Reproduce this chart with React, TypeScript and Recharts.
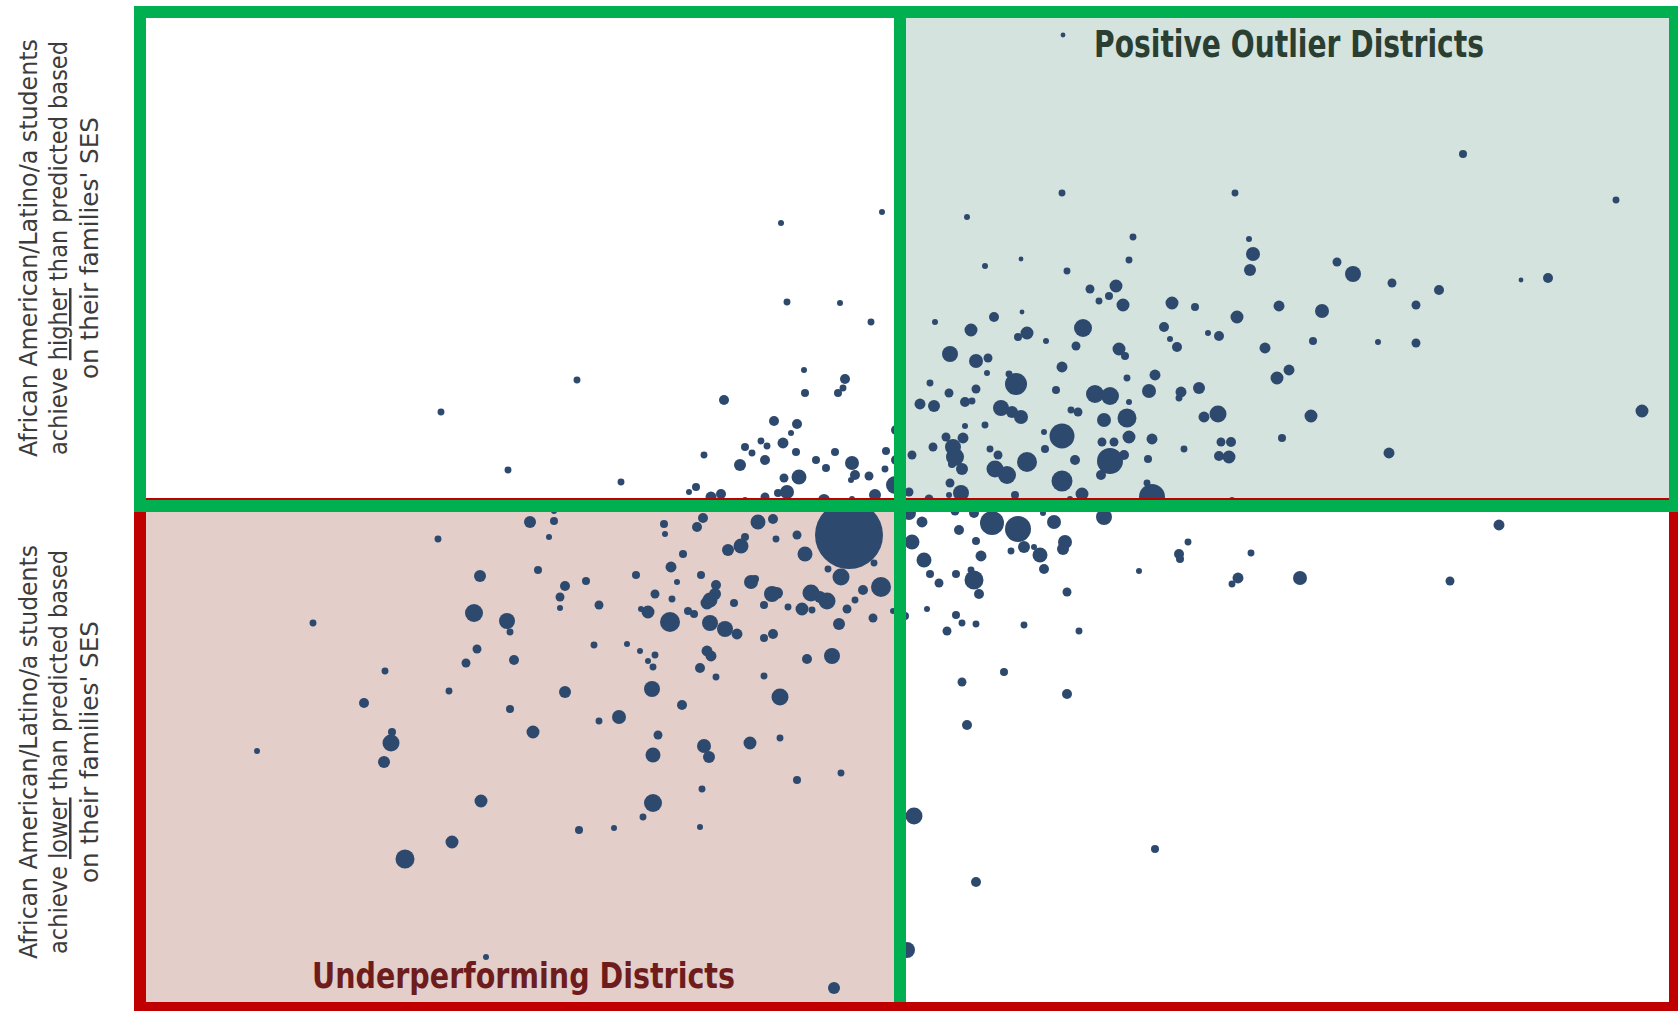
import React from 'react';
import { ScatterChart, Scatter, XAxis, YAxis, ZAxis, ReferenceArea, ReferenceLine } from 'recharts';

// Each district: [performance vs SES prediction (x), achievement gap residual (y), enrollment weight (z)]
type P = [number, number, number];

const upperLeft: P[] = [
  [-0.18, 2.94, 9], [-1.19, 2.83, 9], [-1.13, 2.04, 12], [-0.6, 2.03, 9], [-0.29, 1.84, 12],
  [-3.23, 1.26, 12], [-4.59, 0.94, 12], [-0.96, 1.36, 9], [-0.55, 1.27, 25], [-0.57, 1.18, 12],
  [-0.95, 1.13, 16], [-0.62, 1.13, 16], [-1.76, 1.06, 25], [-1.26, 0.85, 25], [-1.03, 0.82, 25],
  [-1.09, 0.73, 9], [-3.92, 0.36, 12], [-2.79, 0.24, 12], [-1.55, 0.59, 16], [-1.39, 0.65, 12],
  [-1.33, 0.6, 12], [-1.48, 0.53, 12], [-1.17, 0.63, 30], [-1.04, 0.54, 16], [-1.96, 0.51, 12],
  [-1.6, 0.41, 36], [-1.35, 0.46, 25], [-0.84, 0.46, 16], [-0.74, 0.38, 16], [-0.65, 0.54, 16],
  [-0.48, 0.43, 49], [-0.45, 0.31, 25], [-0.31, 0.3, 20], [-0.14, 0.55, 16], [-0.15, 0.37, 12],
  [-1.01, 0.29, 56], [-1.16, 0.28, 20], [-0.49, 0.26, 9], [-1.13, 0.14, 49], [-1.22, 0.13, 16],
  [-2.04, 0.19, 16], [-2.11, 0.14, 9], [-1.89, 0.09, 30], [-1.79, 0.12, 25], [-1.55, 0.06, 9],
  [-1.35, 0.09, 20], [-0.76, 0.06, 36], [-0.48, 0.07, 9], [-0.25, 0.11, 36], [-0.05, 0.21, 81],
  [-0.04, 0.46, 25], [-0.04, 0.76, 25],
];

const upperRight: P[] = [
  [1.63, 4.71, 6], [5.63, 3.52, 16], [1.62, 3.13, 12], [3.35, 3.13, 12], [7.16, 3.06, 12],
  [0.67, 2.89, 9], [2.33, 2.69, 12], [3.49, 2.67, 9], [3.53, 2.52, 49], [3.5, 2.36, 36],
  [2.29, 2.46, 12], [1.21, 2.47, 6], [0.85, 2.4, 9], [1.67, 2.35, 12], [4.37, 2.44, 20],
  [4.53, 2.32, 64], [4.92, 2.23, 20], [5.39, 2.16, 25], [6.21, 2.26, 6], [6.48, 2.28, 25],
  [5.16, 2.01, 20], [2.16, 2.2, 42], [1.9, 2.17, 20], [2.09, 2.1, 16], [1.99, 2.05, 12],
  [2.23, 2.01, 42], [2.72, 2.03, 42], [2.95, 1.99, 16], [3.79, 2.0, 30], [4.22, 1.95, 49],
  [3.37, 1.89, 42], [1.22, 1.94, 6], [0.35, 1.84, 9], [0.94, 1.89, 25], [0.71, 1.76, 42],
  [1.27, 1.73, 42], [1.18, 1.69, 16], [1.46, 1.65, 9], [1.83, 1.78, 81], [1.76, 1.6, 20],
  [2.64, 1.79, 25], [3.08, 1.73, 9], [3.19, 1.7, 25], [2.7, 1.67, 9], [2.77, 1.59, 25],
  [2.19, 1.57, 42], [2.25, 1.5, 16], [3.65, 1.58, 30], [4.13, 1.65, 16], [4.78, 1.64, 9],
  [5.16, 1.63, 20], [0.5, 1.52, 64], [0.76, 1.45, 49], [0.88, 1.48, 20], [1.62, 1.39, 30],
  [3.89, 1.36, 30], [3.77, 1.28, 42], [2.55, 1.31, 30], [2.27, 1.28, 12], [0.3, 1.23, 12],
  [0.87, 1.33, 9], [1.09, 1.32, 12], [1.16, 1.22, 121], [0.76, 1.17, 20], [0.49, 1.13, 20],
  [1.56, 1.16, 16], [1.95, 1.12, 81], [2.1, 1.1, 81], [2.49, 1.15, 49], [2.81, 1.14, 30],
  [2.79, 1.08, 12], [2.99, 1.18, 36], [0.2, 1.02, 30], [0.34, 1.0, 36], [0.65, 1.04, 25],
  [0.72, 1.05, 12], [1.01, 0.98, 64], [1.12, 0.94, 36], [1.21, 0.89, 49], [1.71, 0.96, 12],
  [1.78, 0.94, 20], [2.04, 0.86, 49], [2.27, 0.88, 90], [2.29, 1.04, 9], [3.18, 0.92, 72],
  [3.04, 0.89, 30], [4.11, 0.9, 42], [7.42, 0.95, 42], [0.65, 0.8, 9], [0.85, 0.81, 12],
  [0.46, 0.69, 20], [0.63, 0.68, 30], [0.53, 0.59, 64], [0.55, 0.49, 81], [0.33, 0.59, 20],
  [0.12, 0.51, 20], [0.9, 0.57, 12], [0.98, 0.51, 20], [1.44, 0.74, 9], [1.62, 0.7, 156],
  [1.45, 0.57, 16], [1.27, 0.44, 100], [1.75, 0.46, 25], [2.02, 0.64, 20], [2.14, 0.64, 20],
  [2.29, 0.69, 42], [2.52, 0.67, 30], [2.1, 0.45, 169], [2.24, 0.51, 25], [2.01, 0.31, 25],
  [2.48, 0.47, 16], [2.84, 0.57, 12], [3.21, 0.64, 20], [3.31, 0.64, 25], [3.19, 0.5, 25],
  [3.29, 0.49, 42], [3.82, 0.68, 16], [4.89, 0.53, 30], [0.52, 0.42, 16], [0.62, 0.37, 36],
  [0.95, 0.37, 72], [1.07, 0.31, 81], [1.62, 0.25, 110], [0.5, 0.23, 20], [0.61, 0.13, 64],
  [0.49, 0.11, 9], [1.15, 0.11, 16], [1.82, 0.12, 42], [0.09, 0.14, 20], [0.29, 0.07, 20],
  [2.47, 0.23, 12], [2.52, 0.09, 169], [3.32, 0.06, 9], [1.7, 0.07, 9],
];

const lowerRight: P[] = [
  [0.09, -0.07, 49], [0.22, -0.16, 30], [0.55, -0.05, 20], [0.74, -0.07, 25], [0.92, -0.17, 144],
  [1.18, -0.23, 169], [1.43, -0.07, 9], [1.54, -0.16, 49], [2.04, -0.11, 64], [0.59, -0.24, 25],
  [0.12, -0.36, 56], [0.76, -0.35, 16], [1.11, -0.45, 12], [1.24, -0.41, 36], [1.34, -0.41, 9],
  [1.4, -0.49, 56], [0.81, -0.5, 30], [1.65, -0.36, 49], [1.63, -0.43, 36], [2.88, -0.36, 12],
  [2.79, -0.48, 25], [2.8, -0.53, 16], [3.51, -0.47, 12], [5.99, -0.19, 30], [0.24, -0.54, 56],
  [1.44, -0.63, 25], [2.39, -0.65, 9], [0.3, -0.68, 16], [0.56, -0.68, 16], [0.71, -0.64, 12],
  [0.74, -0.74, 90], [0.39, -0.77, 20], [0.79, -0.88, 25], [3.38, -0.72, 30], [3.32, -0.78, 12],
  [4.0, -0.72, 49], [5.5, -0.75, 20], [1.67, -0.86, 20], [0.05, -1.1, 16], [0.27, -1.03, 9],
  [0.56, -1.09, 16], [0.62, -1.17, 12], [0.76, -1.18, 12], [0.47, -1.25, 20], [1.24, -1.19, 12],
  [1.79, -1.25, 12], [1.04, -1.66, 16], [0.62, -1.76, 20], [1.67, -1.88, 25], [0.67, -2.19, 25],
  [0.14, -3.1, 72], [2.55, -3.43, 16], [0.76, -3.76, 25], [0.07, -4.44, 64],
];

const lowerLeft: P[] = [
  [-3.7, -0.16, 36], [-3.46, -0.15, 16], [-3.46, -0.05, 9], [-3.51, -0.31, 9], [-4.62, -0.33, 12],
  [-2.36, -0.18, 16], [-2.35, -0.28, 9], [-2.03, -0.21, 25], [-1.97, -0.12, 25], [-1.42, -0.16, 56],
  [-1.27, -0.13, 25], [-1.24, -0.33, 12], [-1.03, -0.29, 20], [-0.95, -0.48, 56], [-0.51, -0.29, 1156],
  [-1.55, -0.31, 16], [-1.59, -0.4, 56], [-1.72, -0.44, 36], [-2.17, -0.48, 16], [-2.29, -0.61, 30],
  [-1.99, -0.69, 16], [-2.23, -0.76, 9], [-2.64, -0.69, 16], [-3.14, -0.75, 16], [-3.62, -0.64, 16],
  [-4.2, -0.7, 36], [-1.84, -0.79, 25], [-1.49, -0.76, 49], [-1.45, -0.73, 16], [-1.28, -0.88, 64],
  [-1.23, -0.87, 36], [-0.89, -0.87, 72], [-0.73, -0.95, 72], [-0.8, -0.91, 36], [-0.59, -0.71, 72],
  [-0.72, -0.63, 12], [-0.26, -0.57, 12], [-0.37, -0.84, 25], [-0.45, -0.94, 12], [-0.19, -0.81, 100],
  [-0.53, -1.03, 20], [-0.27, -1.12, 20], [-0.61, -1.18, 36], [-0.07, -1.05, 9], [-0.98, -1.03, 42],
  [-0.88, -1.04, 12], [-1.12, -1.01, 12], [-1.36, -0.99, 16], [-1.66, -0.97, 16], [-1.85, -0.88, 36],
  [-1.9, -0.94, 56], [-1.93, -0.97, 42], [-2.45, -0.88, 20], [-2.28, -0.93, 12], [-2.52, -1.06, 42],
  [-2.59, -1.03, 9], [-2.3, -1.16, 100], [-2.12, -1.05, 16], [-2.06, -1.08, 16], [-1.9, -1.17, 64],
  [-1.75, -1.23, 64], [-1.63, -1.28, 30], [-1.36, -1.32, 16], [-1.27, -1.28, 25], [-3.01, -0.99, 20],
  [-3.4, -0.91, 20], [-3.35, -0.8, 25], [-3.4, -1.02, 9], [-4.26, -1.07, 81], [-3.93, -1.15, 64],
  [-3.9, -1.26, 12], [-5.87, -1.17, 12], [-3.06, -1.39, 12], [-2.73, -1.38, 9], [-2.6, -1.45, 9],
  [-2.45, -1.49, 12], [-2.52, -1.55, 9], [-2.47, -1.61, 12], [-1.93, -1.45, 30], [-1.89, -1.5, 30],
  [-2.0, -1.62, 25], [-1.84, -1.71, 12], [-1.36, -1.7, 12], [-0.93, -1.53, 25], [-0.68, -1.5, 64],
  [-4.23, -1.43, 20], [-4.34, -1.57, 20], [-3.86, -1.54, 25], [-5.15, -1.65, 12], [-4.51, -1.85, 12],
  [-5.36, -1.97, 25], [-3.35, -1.86, 36], [-2.48, -1.83, 64], [-1.2, -1.91, 72], [-2.18, -1.99, 25],
  [-3.9, -2.03, 16], [-3.01, -2.15, 12], [-2.81, -2.11, 49], [-3.67, -2.26, 42], [-2.42, -2.29, 20],
  [-1.2, -2.32, 12], [-1.5, -2.37, 42], [-1.96, -2.4, 49], [-1.91, -2.51, 36], [-2.47, -2.49, 56],
  [-5.08, -2.26, 16], [-5.09, -2.37, 72], [-5.16, -2.56, 36], [-6.43, -2.45, 9], [-1.03, -2.74, 16],
  [-0.59, -2.67, 12], [-1.98, -2.83, 12], [-4.19, -2.95, 42], [-2.47, -2.97, 81], [-2.57, -3.11, 12],
  [-2.0, -3.21, 9], [-2.86, -3.22, 9], [-3.21, -3.24, 16], [-4.48, -3.36, 42], [-4.95, -3.53, 90],
  [-4.14, -4.51, 9], [-0.66, -4.82, 36],
];

const xDomain: [number, number] = [-7.6, 7.75];
const yDomain: [number, number] = [-5.02, 4.94];
const zMax = 1156;

const quadrantTitles = { positive: 'Positive Outlier Districts', under: 'Underperforming Districts' };
const upperAxisLines = ['African American/Latino/a students', 'achieve ', 'higher', ' than predicted based', "on their families' SES"];
const lowerAxisLines = ['African American/Latino/a students', 'achieve ', 'lower', ' than predicted based', "on their families' SES"];

const DOT = '#2D4A6E';
const GREEN = '#00B050';
const RED = '#C00000';
const narrow = "'Liberation Sans Narrow', 'Arial Narrow', 'DejaVu Sans Condensed', 'Roboto Condensed', sans-serif";

const toRows = (arr: P[]) => arr.map(([x, y, z]) => ({ x, y, z }));

function AxisLabel({ lines, cy, lens }: { lines: string[]; cy: number; lens: number[] }) {
  const common = {
    textAnchor: 'middle' as const,
    fontFamily: narrow,
    fontSize: 25,
    fill: '#3C3C3C',
    lengthAdjust: 'spacingAndGlyphs' as const,
  };
  return (
    <g>
      <text {...common} transform={`translate(37,${cy}) rotate(-90)`} textLength={lens[0]}>{lines[0]}</text>
      <text {...common} transform={`translate(67,${cy}) rotate(-90)`} textLength={lens[1]}>
        {lines[1]}
        <tspan style={{ textDecoration: 'underline' }}>{lines[2]}</tspan>
        {lines[3]}
      </text>
      <text {...common} transform={`translate(98,${cy}) rotate(-90)`} textLength={lens[2]}>{lines[4]}</text>
    </g>
  );
}

export default function App() {
  return (
    <div style={{ position: 'absolute', left: 0, top: 0, width: 1678, height: 1011, background: '#fff' }}>
      <ScatterChart width={1678} height={1011} margin={{ top: 12, right: 3, bottom: 3, left: 140 }}>
        <XAxis type="number" dataKey="x" domain={xDomain} hide allowDataOverflow />
        <YAxis type="number" dataKey="y" domain={yDomain} hide allowDataOverflow />
        <ZAxis type="number" dataKey="z" domain={[0, zMax]} range={[0, zMax * Math.PI]} />
        <ReferenceArea x1={0} x2={xDomain[1]} y1={0} y2={yDomain[1]} fill="#D5E3DE" fillOpacity={1} stroke="none" ifOverflow="visible" zIndex={-10} />
        <ReferenceArea x1={xDomain[0]} x2={0} y1={yDomain[0]} y2={0} fill="#E3CEC9" fillOpacity={1} stroke="none" ifOverflow="visible" zIndex={-10} />
        <Scatter data={toRows(lowerLeft)} fill={DOT} isAnimationActive={false} />
        <Scatter data={toRows(lowerRight)} fill={DOT} isAnimationActive={false} />
        <Scatter data={toRows(upperLeft)} fill={DOT} isAnimationActive={false} />
        <Scatter data={toRows(upperRight)} fill={DOT} isAnimationActive={false} />
        <ReferenceLine x={0} stroke={GREEN} strokeWidth={12} ifOverflow="visible" zIndex={1999} />
        <ReferenceArea x1={xDomain[0]} x2={xDomain[1]} y1={yDomain[0]} y2={0.02} fill="none" stroke={RED} strokeWidth={12} ifOverflow="visible" zIndex={2000} />
        <ReferenceArea x1={xDomain[0]} x2={0} y1={0} y2={yDomain[1]} fill="none" stroke={GREEN} strokeWidth={12} ifOverflow="visible" zIndex={2001} />
        <ReferenceArea x1={0} x2={xDomain[1]} y1={0} y2={yDomain[1]} fill="none" stroke={GREEN} strokeWidth={12} ifOverflow="visible" zIndex={2002} />
      </ScatterChart>
      <svg width={1678} height={1011} style={{ position: 'absolute', left: 0, top: 0, pointerEvents: 'none' }}>
        <text x={1094} y={57} fontFamily={narrow} fontWeight={700} fontSize={37} fill="#2A3E31" textLength={390} lengthAdjust="spacingAndGlyphs">
          {quadrantTitles.positive}
        </text>
        <text x={312} y={988} fontFamily={narrow} fontWeight={700} fontSize={36} fill="#6E1C1C" textLength={423} lengthAdjust="spacingAndGlyphs">
          {quadrantTitles.under}
        </text>
        <AxisLabel lines={upperAxisLines} cy={248} lens={[418, 414, 262]} />
        <AxisLabel lines={lowerAxisLines} cy={752} lens={[414, 404, 262]} />
      </svg>
    </div>
  );
}
